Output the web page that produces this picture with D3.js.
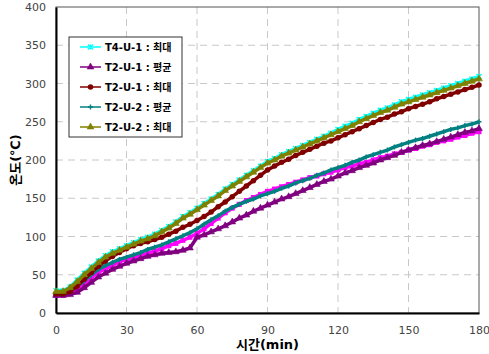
<!DOCTYPE html>
<html>
<head>
<meta charset="utf-8">
<script src="https://cdn.jsdelivr.net/npm/d3@7"></script>
<style>
  body { margin: 0; background: #fff; }
  svg { display: block; font-family: "DejaVu Sans", "Noto Sans CJK KR", sans-serif; }
</style>
</head>
<body>
<div id="chart"></div>
<script>
// time axis, every 3 minutes
const minutes = d3.range(0, 181, 3);

const xTicks = [0, 30, 60, 90, 120, 150, 180];
const yTicks = [0, 50, 100, 150, 200, 250, 300, 350, 400];

// values (°C)
const t4u1Max = [29, 29, 34, 43, 52, 60, 68, 75, 80, 84, 88, 92, 96, 99, 103, 108, 113, 119, 126, 131,
  137, 143, 149, 155, 162, 168, 174, 180, 186, 192, 198, 202, 207, 211, 215, 219, 223, 227, 231, 235,
  240, 244, 248, 253, 257, 261, 265, 268, 272, 276, 279, 282, 285, 288, 291, 294, 297, 300, 303, 306, 309];
const t2u1Avg = [23, 23, 24, 27, 33, 40, 47, 52, 57, 61, 65, 68, 71, 74, 76, 78, 79, 80, 82, 85,
  99, 102, 106, 110, 114, 119, 124, 128, 133, 137, 141, 145, 149, 152, 156, 160, 164, 168, 172, 175,
  179, 183, 186, 190, 193, 196, 200, 203, 206, 210, 213, 216, 219, 221, 224, 227, 230, 233, 236, 238, 241];
const t2u1Max = [25, 25, 28, 35, 44, 53, 61, 68, 74, 79, 84, 88, 91, 93, 96, 99, 103, 107, 112, 116,
  121, 126, 132, 139, 145, 152, 159, 166, 173, 180, 187, 192, 197, 201, 206, 210, 214, 218, 222, 225,
  229, 233, 237, 241, 245, 249, 253, 256, 260, 263, 267, 270, 273, 276, 280, 283, 286, 289, 292, 295, 298];
const t2u2Avg = [25, 25, 29, 35, 42, 50, 57, 62, 66, 70, 73, 76, 79, 83, 86, 89, 93, 97, 101, 105,
  110, 116, 122, 127, 133, 138, 142, 146, 149, 153, 156, 159, 163, 166, 170, 173, 176, 180, 183, 187,
  190, 193, 197, 200, 204, 207, 210, 213, 217, 220, 223, 226, 228, 231, 234, 237, 240, 242, 245, 247, 250];
const t2u2Max = [28, 28, 33, 41, 50, 58, 66, 73, 78, 82, 86, 90, 94, 97, 101, 106, 111, 117, 124, 129,
  135, 141, 147, 153, 160, 166, 172, 178, 184, 190, 196, 200, 205, 209, 213, 217, 221, 225, 229, 233,
  237, 241, 245, 250, 254, 258, 262, 265, 269, 273, 276, 279, 282, 285, 288, 291, 294, 297, 300, 303, 306];
// extra series shown in the plot without a legend entry
const extraSeries = [23, 23, 26, 31, 38, 46, 53, 58, 62, 67, 70, 72, 75, 78, 81, 84, 88, 91, 95, 99,
  104, 110, 117, 124, 131, 137, 142, 147, 151, 155, 159, 162, 165, 168, 171, 174, 177, 179, 182, 184,
  187, 190, 192, 195, 197, 200, 203, 205, 208, 210, 213, 215, 218, 220, 223, 225, 227, 230, 232, 235, 237];

const series = [
  { name: 'T4-U-1 : 최대', values: t4u1Max, color: '#00ffff', marker: 'star', legend: true },
  { name: '', values: extraSeries, color: '#ff00ff', marker: 'square', legend: false },
  { name: 'T2-U-1 : 평균', values: t2u1Avg, color: '#800080', marker: 'triangle', legend: true },
  { name: 'T2-U-2 : 평균', values: t2u2Avg, color: '#008080', marker: 'cross', legend: true },
  { name: 'T2-U-1 : 최대', values: t2u1Max, color: '#800000', marker: 'circle', legend: true },
  { name: 'T2-U-2 : 최대', values: t2u2Max, color: '#808000', marker: 'triangle', legend: true }
];
const legendOrder = ['T4-U-1 : 최대', 'T2-U-1 : 평균', 'T2-U-1 : 최대', 'T2-U-2 : 평균', 'T2-U-2 : 최대'];

const width = 489, height = 354;
const margin = { top: 7, right: 10, bottom: 41, left: 56 };
const innerW = width - margin.left - margin.right;
const innerH = height - margin.top - margin.bottom;

const svg = d3.select('#chart')
  .append('svg')
  .attr('width', width)
  .attr('height', height);

const g = svg.append('g')
  .attr('transform', `translate(${margin.left},${margin.top})`);

const x = d3.scaleLinear().domain([0, 180]).range([0, innerW]);
const y = d3.scaleLinear().domain([0, 400]).range([innerH, 0]);

// dashed grid
g.append('g')
  .selectAll('line')
  .data(yTicks.slice(1, -1))
  .enter()
  .append('line')
  .attr('x1', 0).attr('x2', innerW)
  .attr('y1', d => y(d)).attr('y2', d => y(d))
  .attr('stroke', '#c8c8c8')
  .attr('stroke-dasharray', '7,5');

g.append('g')
  .selectAll('line')
  .data(xTicks.slice(1, -1))
  .enter()
  .append('line')
  .attr('y1', 0).attr('y2', innerH)
  .attr('x1', d => x(d)).attr('x2', d => x(d))
  .attr('stroke', '#c8c8c8')
  .attr('stroke-dasharray', '7,5');

// frame
g.append('rect')
  .attr('width', innerW)
  .attr('height', innerH)
  .attr('fill', 'none')
  .attr('stroke', '#555')
  .attr('stroke-width', 1);

// axes
const xAxis = g.append('g')
  .attr('transform', `translate(0,${innerH})`)
  .call(d3.axisBottom(x).tickValues(xTicks).tickSize(0).tickPadding(13));
const yAxis = g.append('g')
  .call(d3.axisLeft(y).tickValues(yTicks).tickSize(0).tickPadding(10));

[xAxis, yAxis].forEach(a => {
  a.select('.domain').attr('stroke', '#000').attr('stroke-width', 2);
  a.selectAll('text')
    .attr('fill', '#444')
    .style('font-size', '11px')
    .style('font-family', '"DejaVu Sans", sans-serif');
});

// marker symbols
function drawMarker(sel, type, color, size) {
  const s = size;
  if (type === 'circle') {
    sel.append('circle').attr('r', s * 0.55).attr('fill', color);
  } else if (type === 'square') {
    sel.append('rect').attr('x', -s / 2).attr('y', -s / 2).attr('width', s).attr('height', s).attr('fill', color);
  } else if (type === 'triangle') {
    sel.append('path')
      .attr('d', d3.symbol().type(d3.symbolTriangle).size(s * s * 0.8)())
      .attr('fill', color)
      .attr('stroke', color)
      .attr('stroke-width', 0.6);
  } else if (type === 'cross') {
    sel.append('path')
      .attr('d', `M${-s / 2},0H${s / 2}M0,${-s / 2}V${s / 2}`)
      .attr('stroke', color).attr('stroke-width', 1.4);
  } else if (type === 'star') {
    sel.append('path')
      .attr('d', `M${-s / 2},${-s / 2}L${s / 2},${s / 2}M${-s / 2},${s / 2}L${s / 2},${-s / 2}M0,${-s / 2}V${s / 2}`)
      .attr('stroke', color).attr('stroke-width', 1.4);
  }
}

const line = d3.line()
  .x((d, i) => x(minutes[i]))
  .y(d => y(d));

series.forEach(s => {
  const sg = g.append('g');
  sg.append('path')
    .datum(s.values)
    .attr('fill', 'none')
    .attr('stroke', s.color)
    .attr('stroke-width', 3.5)
    .attr('d', line);
  sg.selectAll('g.pt')
    .data(s.values)
    .enter()
    .append('g')
    .attr('class', 'pt')
    .attr('transform', (d, i) => `translate(${x(minutes[i])},${y(d)})`)
    .each(function () { drawMarker(d3.select(this), s.marker, s.color, 5); });
});

// axis titles
svg.append('text')
  .attr('transform', `translate(20,${margin.top + innerH / 2}) rotate(-90)`)
  .attr('text-anchor', 'middle')
  .style('font-size', '13px')
  .style('font-weight', 'bold')
  .text('온도(℃)');

svg.append('text')
  .attr('x', margin.left + innerW / 2)
  .attr('y', 349)
  .attr('text-anchor', 'middle')
  .style('font-size', '13px')
  .style('font-weight', 'bold')
  .text('시간(min)');

// legend
const legend = svg.append('g').attr('transform', 'translate(69,37)');
legend.append('rect')
  .attr('width', 113)
  .attr('height', 100)
  .attr('fill', '#fff')
  .attr('stroke', '#333');

legendOrder.forEach((name, i) => {
  const s = series.find(d => d.name === name);
  const row = legend.append('g').attr('transform', `translate(0,${10 + i * 20})`);
  row.append('line')
    .attr('x1', 11).attr('x2', 32)
    .attr('stroke', s.color).attr('stroke-width', 1.5);
  drawMarker(row.append('g').attr('transform', 'translate(21.5,0)'), s.marker, s.color, 5);
  row.append('text')
    .attr('x', 36)
    .attr('dy', '0.35em')
    .style('font-size', '10px')
    .style('font-weight', 'bold')
    .text(s.name);
});
</script>
</body>
</html>
